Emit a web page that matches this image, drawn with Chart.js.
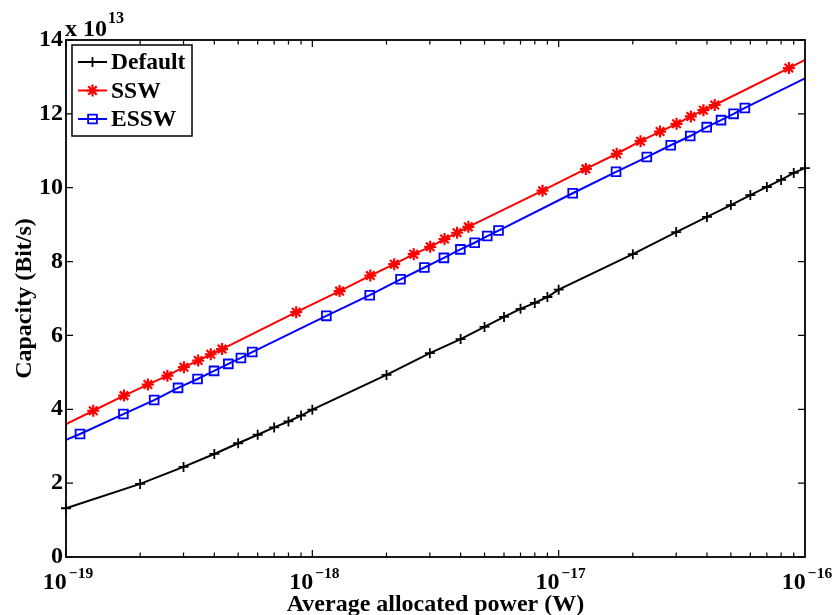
<!DOCTYPE html>
<html lang="en">
  <head>
    <meta charset="UTF-8" />
    <title>Capacity vs average allocated power</title>
    <script src="https://cdn.jsdelivr.net/npm/chart.js"></script>
    <style>
      body { margin: 0; background: #fff; }
      canvas { display: block; }
    </style>
  </head>

  <body>
    <canvas id="capChart" width="834" height="615"></canvas>

    <script>
      // values (capacity in units of 1e13 bit/s)
      const defaultPower = [
        1e-19, 2e-19, 3e-19, 4e-19, 5e-19, 6e-19, 7e-19, 8e-19, 9e-19,
        1e-18, 2e-18, 3e-18, 4e-18, 5e-18, 6e-18, 7e-18, 8e-18, 9e-18,
        1e-17, 2e-17, 3e-17, 4e-17, 5e-17, 6e-17, 7e-17, 8e-17, 9e-17, 1e-16,
      ];
      const defaultCap = [
        1.32, 1.98, 2.44, 2.79, 3.08, 3.31, 3.51, 3.67, 3.83,
        3.99, 4.93, 5.52, 5.9, 6.23, 6.5, 6.72, 6.88, 7.04,
        7.24, 8.2, 8.8, 9.21, 9.53, 9.8, 10.02, 10.21, 10.4, 10.53,
      ];

      const sswPower = [
        1e-19, 1.29e-19, 1.72e-19, 2.15e-19, 2.58e-19, 3.01e-19, 3.44e-19, 3.87e-19, 4.3e-19, 8.6e-19,
        1.29e-18, 1.72e-18, 2.15e-18, 2.58e-18, 3.01e-18, 3.44e-18, 3.87e-18, 4.3e-18, 8.6e-18,
        1.29e-17, 1.72e-17, 2.15e-17, 2.58e-17, 3.01e-17, 3.44e-17, 3.87e-17, 4.3e-17, 8.6e-17, 1e-16,
      ];
      const sswCap = [
        3.6, 3.96, 4.37, 4.67, 4.91, 5.14, 5.32, 5.49, 5.63, 6.63,
        7.2, 7.62, 7.93, 8.2, 8.4, 8.61, 8.78, 8.94, 9.92,
        10.51, 10.92, 11.26, 11.52, 11.73, 11.93, 12.1, 12.24, 13.24, 13.46,
      ];

      const esswPower = [
        1e-19, 1.14e-19, 1.71e-19, 2.28e-19, 2.85e-19, 3.42e-19, 3.99e-19, 4.56e-19, 5.13e-19, 5.7e-19,
        1.14e-18, 1.71e-18, 2.28e-18, 2.85e-18, 3.42e-18, 3.99e-18, 4.56e-18, 5.13e-18, 5.7e-18,
        1.14e-17, 1.71e-17, 2.28e-17, 2.85e-17, 3.42e-17, 3.99e-17, 4.56e-17, 5.13e-17, 5.7e-17, 1e-16,
      ];
      const esswCap = [
        3.17, 3.33, 3.87, 4.25, 4.58, 4.82, 5.04, 5.23, 5.39, 5.55,
        6.53, 7.09, 7.52, 7.84, 8.1, 8.33, 8.51, 8.69, 8.84,
        9.85, 10.43, 10.83, 11.15, 11.4, 11.64, 11.83, 12.0, 12.16, 12.96,
      ];

      const seriesNames = ["Default", "SSW", "ESSW"];
      const xTickValues = [1e-19, 1e-18, 1e-17, 1e-16];
      const xTickExponents = ["\u221219", "\u221218", "\u221217", "\u221216"];
      const yTickValues = [0, 2, 4, 6, 8, 10, 12, 14];

      const FONT = "'Liberation Serif', 'Times New Roman', serif";
      const colors = ["#000000", "#ff0000", "#0000ff"];
      const styles = [
        { pointStyle: "cross", radius: 5, borderWidth: 1.8 },
        { pointStyle: "star", radius: 6, borderWidth: 2.2 },
        { pointStyle: "rect", radius: 6.2, borderWidth: 1.8 },
      ];

      const toPoints = (xs, ys) => xs.map((v, i) => ({ x: v, y: ys[i] }));

      // the coloured lines run to the axes edges, markers only on measured points
      const hideEnds = (r) => (ctx) =>
        ctx.dataIndex === 0 || ctx.dataIndex === ctx.dataset.data.length - 1 ? 0 : r;

      const makeDataset = (i, points, radius) => ({
        label: seriesNames[i],
        data: points,
        borderColor: colors[i],
        backgroundColor: "rgba(0,0,0,0)",
        borderWidth: 2,
        tension: 0,
        clip: false,
        pointStyle: styles[i].pointStyle,
        pointRadius: radius,
        pointBorderWidth: styles[i].borderWidth,
        pointBorderColor: colors[i],
        pointBackgroundColor: "rgba(0,0,0,0)",
      });

      const frame = {
        id: "frame",
        afterDraw(chart) {
          const { ctx, chartArea: a, scales } = chart;
          const x = scales.x;
          const y = scales.y;
          ctx.save();
          ctx.strokeStyle = "#000";
          ctx.lineWidth = 1.8;
          ctx.strokeRect(a.left, a.top, a.right - a.left, a.bottom - a.top);

          // inward ticks on all four sides
          ctx.lineWidth = 1.2;
          ctx.beginPath();
          yTickValues.forEach((v) => {
            const py = y.getPixelForValue(v);
            ctx.moveTo(a.left, py);
            ctx.lineTo(a.left + 7, py);
            ctx.moveTo(a.right, py);
            ctx.lineTo(a.right - 7, py);
          });
          for (let n = -19; n < -16; n++) {
            for (let k = 1; k <= 9; k++) {
              const px = x.getPixelForValue(k * Math.pow(10, n));
              const len = k === 1 ? 7 : 4.5;
              ctx.moveTo(px, a.bottom);
              ctx.lineTo(px, a.bottom - len);
              ctx.moveTo(px, a.top);
              ctx.lineTo(px, a.top + len);
            }
          }
          ctx.stroke();

          // x tick labels 10^n
          ctx.fillStyle = "#000";
          ctx.textBaseline = "alphabetic";
          ctx.textAlign = "left";
          xTickValues.forEach((v, i) => {
            const px = x.getPixelForValue(v);
            ctx.font = "bold 24px " + FONT;
            const wBase = ctx.measureText("10").width;
            ctx.font = "bold 15.5px " + FONT;
            const wExp = ctx.measureText(xTickExponents[i]).width;
            const start = px - (wBase + wExp + 2) / 2 + 2;
            ctx.font = "bold 24px " + FONT;
            ctx.fillText("10", start, 589);
            ctx.font = "bold 15.5px " + FONT;
            ctx.fillText(xTickExponents[i], start + wBase + 2, 578);
          });

          // y multiplier
          ctx.font = "bold 24px " + FONT;
          ctx.fillText("x 10", 65, 36);
          const wMul = ctx.measureText("x 10").width;
          ctx.font = "bold 16px " + FONT;
          ctx.fillText("13", 65 + wMul + 1, 23);

          // legend box
          const box = { left: 72, top: 45, right: 192, bottom: 136 };
          ctx.fillStyle = "#fff";
          ctx.fillRect(box.left, box.top, box.right - box.left, box.bottom - box.top);
          ctx.strokeStyle = "#000";
          ctx.lineWidth = 1.5;
          ctx.strokeRect(box.left, box.top, box.right - box.left, box.bottom - box.top);
          const rowY = [62, 90.5, 119];
          seriesNames.forEach((name, i) => {
            const ly = rowY[i];
            ctx.strokeStyle = colors[i];
            ctx.lineWidth = 2;
            ctx.beginPath();
            ctx.moveTo(78, ly);
            ctx.lineTo(107, ly);
            ctx.stroke();
            ctx.fillStyle = "rgba(0,0,0,0)";
            ctx.lineWidth = styles[i].borderWidth;
            Chart.helpers.drawPoint(
              ctx,
              {
                pointStyle: styles[i].pointStyle,
                radius: styles[i].radius,
                borderWidth: styles[i].borderWidth,
                rotation: 0,
              },
              92.5,
              ly
            );
            ctx.fillStyle = "#000";
            ctx.font = "bold 23.5px " + FONT;
            ctx.textBaseline = "middle";
            ctx.fillText(name, 111, ly + 1);
          });
          ctx.restore();
        },
      };

      new Chart(document.getElementById("capChart"), {
        type: "line",
        data: {
          datasets: [
            makeDataset(0, toPoints(defaultPower, defaultCap), styles[0].radius),
            makeDataset(1, toPoints(sswPower, sswCap), hideEnds(styles[1].radius)),
            makeDataset(2, toPoints(esswPower, esswCap), hideEnds(styles[2].radius)),
          ],
        },
        options: {
          responsive: false,
          animation: false,
          devicePixelRatio: 1,
          layout: { padding: { top: 40, right: 29, left: 0, bottom: 0 } },
          plugins: {
            legend: { display: false },
            tooltip: { enabled: false },
          },
          scales: {
            x: {
              type: "logarithmic",
              min: 1e-19,
              max: 1e-16,
              grid: { display: false, drawTicks: false },
              border: { display: false },
              ticks: { display: false },
              title: {
                display: true,
                text: "Average allocated power (W)",
                color: "#000",
                font: { family: FONT, size: 24, weight: "bold", lineHeight: 0.85 },
                padding: 0,
              },
              afterFit: (s) => {
                s.height = 58;
              },
            },
            y: {
              min: 0,
              max: 14,
              grid: { display: false, drawTicks: false },
              border: { display: false },
              ticks: {
                stepSize: 2,
                padding: 3,
                color: "#000",
                font: { family: FONT, size: 24, weight: "bold" },
              },
              title: {
                display: true,
                text: "Capacity (Bit/s)",
                color: "#000",
                font: { family: FONT, size: 24, weight: "bold" },
                padding: { top: 10, bottom: 0 },
              },
              afterFit: (s) => {
                s.width = 66;
              },
            },
          },
        },
        plugins: [frame],
      });
    </script>
  </body>
</html>
